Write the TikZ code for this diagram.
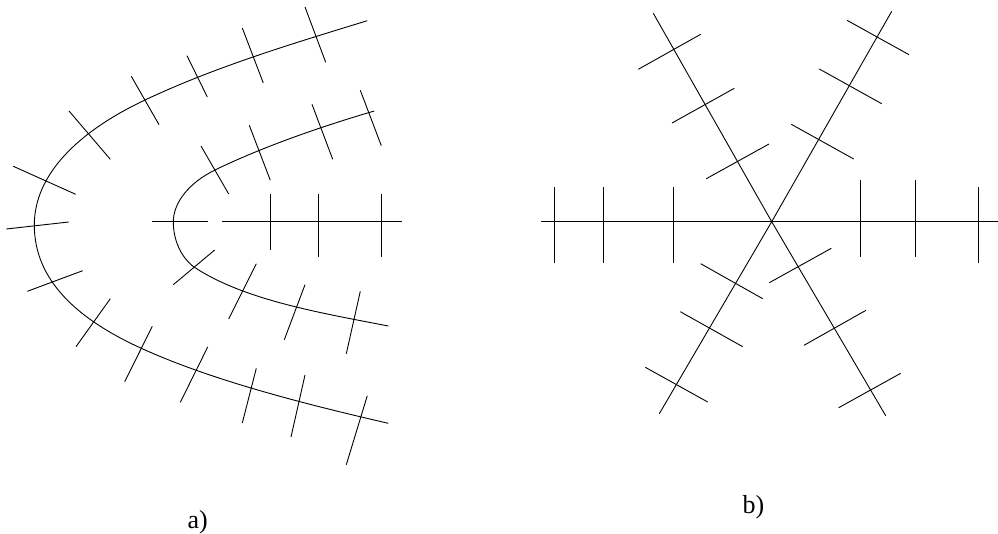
\documentclass[tikz,border=0pt]{standalone}
\usepackage{fontspec}
\setmainfont{Liberation Serif}
\tikzset{
  lineart/.style={draw=black,line width=0.9pt,line cap=butt,line join=round},
  caption/.style={inner sep=0pt,font=\fontsize{26}{30}\selectfont,anchor=base west}
}
\begin{document}
\begin{tikzpicture}[x=1pt,y=-1pt]
\useasboundingbox (0,0) rectangle (998,533);
% a) curves
\draw[lineart] (367.3,20.7) .. controls (293,43.5) and (216,66.5) .. (145,100)
  .. controls (77.2,132) and (34.3,175) .. (34.3,225)
  .. controls (34.3,280) and (77,318.9) .. (140.7,348)
  .. controls (213.4,381.3) and (310.4,405.3) .. (388.3,423.3);
\draw[lineart] (374.3,111) .. controls (319.3,127) and (260,148) .. (215,170)
  .. controls (189.8,182.3) and (173.3,202) .. (173.3,222)
  .. controls (173.3,238) and (179.6,256.2) .. (194,267)
  .. controls (243.8,300) and (319.7,312.7) .. (388.3,326);
% a) horizontal
\draw[lineart] (152.3,221.7) -- (207.7,221.7);
\draw[lineart] (221.7,221.7) -- (402,221.7);
% a) ticks
\foreach \ax/\ay/\bx/\by in {
 13.3/166.3/75.7/194.3, 6.3/229/68.7/222, 27.3/291.3/82.7/270.7,
 69/111/110.3/159.3, 131.3/76.3/159/124.7, 187/55.7/207.3/97,
 242.3/28/263.3/83, 305/7/325.7/62.3,
 76/346.7/110.3/298.7, 124.7/381.7/152.3/326.3, 180.3/402.3/207.7/347,
 242.3/423/256.3/368.3, 291/437/305/375, 346.3/464.7/367.3/395.7,
 201/146/228.7/194, 249.3/125.3/270.3/180.3, 312/104.3/332.7/159.3, 360.3/90.3/381.3/145.7,
 173.3/284.7/214.7/250, 228.7/319/256.3/263.7, 284.3/339.7/305/284.7, 346.3/353.7/360.3/291.3,
 270.3/194/270.3/249.7, 318.7/194/318.7/256.7, 381.3/194/381.3/256.7}
 {\draw[lineart] (\ax,\ay) -- (\bx,\by);}
% b) spokes
\coordinate (hub) at (771.7,221.7);
\draw[lineart] (541,221.7) -- (998,221.7);
\draw[lineart] (653.3,13.3) -- (hub) -- (885.7,415.7);
\draw[lineart] (891.7,11.3) -- (hub) -- (659.3,413.7);
% b) ticks
\foreach \ax/\ay/\bx/\by in {
 554.7/187.3/554.7/263.3, 603.3/187.3/603.3/263.3, 673/187.3/673/263.3,
 860.3/180.3/860.3/256.7, 915.7/180.3/915.7/256.7, 978.3/187.3/978.3/263.3,
 638.3/69.3/700.7/34.3, 672/123/734.3/88.3, 706.3/178.7/769/144,
 847/20.3/909/54.7, 819.3/69/881.7/103.7, 791.3/124.3/853.7/159,
 700.7/263.7/762.7/298.7, 680.3/311.7/742.7/346.7, 645.3/367.3/707.7/402,
 769.3/282.7/831.3/248.3, 804/345.3/866/310.3, 838.7/407.7/900.7/373.3}
 {\draw[lineart] (\ax,\ay) -- (\bx,\by);}
% captions
\node[caption] (capa) at (187.5,528.3) {a)};
\node[caption] (capb) at (742.3,513.3) {b)};
\end{tikzpicture}
\end{document}
